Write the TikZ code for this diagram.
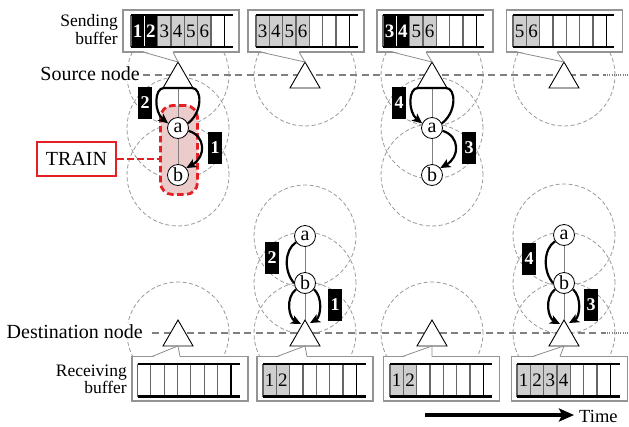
\documentclass[tikz,border=0pt]{standalone}
\usepackage{fontspec}
\setmainfont{Liberation Serif}
\usetikzlibrary{shapes.geometric,arrows.meta,calc}

\definecolor{trainred}{RGB}{228,32,36}
\definecolor{trainpink}{RGB}{236,203,203}
\definecolor{cellgray}{RGB}{206,206,206}

\tikzset{
  rangecircle/.style={draw=black!40, dash pattern=on 4pt off 2.5pt, line width=0.8pt},
  timeline/.style={draw=black!50, dash pattern=on 7pt off 4.5pt, line width=1.3pt},
  tailline/.style={draw=black!50, dash pattern=on 1pt off 1.2pt, line width=1.3pt},
  station/.style={regular polygon, regular polygon sides=3, minimum size=34.6pt,
    draw, fill=white, inner sep=0pt, outer sep=0pt, line width=0.9pt},
  relay/.style={circle, draw, fill=white, minimum size=21pt, inner sep=0pt,
    line width=0.8pt, font=\fontsize{20}{20}\selectfont},
  link/.style={draw=black!50, line width=1pt},
  hop/.style={line width=2.2pt, -{Stealth[length=10pt,width=9pt,inset=2.5pt]}},
  hopline/.style={line width=2.2pt},
  tag/.style={fill=black, text=white, font=\fontsize{18}{18}\selectfont\bfseries,
    minimum width=14pt, minimum height=32pt, inner sep=0pt},
  bufbox/.style={draw=black!42, fill=white, line width=1.2pt, minimum width=116pt,
    inner sep=0pt, outer sep=0pt},
  pointer/.style={draw=black!45, line width=0.8pt},
  cellsep/.style={draw=black!60, line width=1.1pt},
  cellend/.style={draw=black, line width=1.6pt},
  rail/.style={draw=black, line width=2.2pt},
  celltext/.style={font=\fontsize{19}{19}\selectfont, inner sep=0pt},
  rowlabel/.style={font=\fontsize{20}{20}\selectfont, fill=white, inner sep=1pt},
  caption/.style={font=\fontsize{17.5}{15.5}\selectfont, align=right, inner sep=0pt},
  zone/.style={draw=trainred, fill=trainpink, dash pattern=on 6.5pt off 3.5pt,
    line width=2.8pt, rounded corners=12pt, minimum width=37pt, minimum height=89pt},
  trainbox/.style={draw=trainred, line width=2pt, fill=white, minimum width=79pt,
    minimum height=34pt, inner sep=0pt, font=\fontsize{20}{20}\selectfont},
  trainlink/.style={draw=trainred, dash pattern=on 6.5pt off 3.5pt, line width=2.8pt},
  timearrow/.style={line width=4pt, -{Stealth[length=15pt,width=13pt,inset=3pt]}},
}

% buffer ladder: #1 left x, #2 top rail y, #3 bottom rail y, #4 rail end x
\newcommand\rails[4]{%
  \foreach \j in {0,...,6}{\draw[cellsep] ({#1+\j*13.33},#2) -- ({#1+\j*13.33},#3);}
  \draw[cellend] ({#1+93.33},#2) -- ({#1+93.33},#3);
  \draw[rail] (#1,#2) -- (#4,#2) (#1,#3) -- (#4,#3);
}
% one filled cell: #1 name, #2 ladder left, #3 index, #4 top, #5 bottom, #6 fill, #7 text
\newcommand\fillcell[7]{%
  \fill[#6] ({#2+#3*13.33},#4) rectangle ({#2+(#3+1)*13.33},#5);
  \node[celltext] (#1) at ({#2+(#3+0.5)*13.33},{(#4+#5)/2}) {#7};
}
% hops from the source down to a and from a on to b
\newcommand\tophops[3]{%
  \draw[hop] (#2.25) .. controls ($(#1.south)+(25,24)$) and ($(#1.south)+(24,0)$)
    .. ($(#1.south)+(14,0)$) -- ($(#1.south)+(-14,0)$)
    .. controls ($(#1.south)+(-24,0)$) and ($(#1.south)+(-24,24)$) .. (#2.155);
  \draw[hop] (#2.-15) .. controls ($(#2)+(28,8)$) and ($(#3)+(28,-18)$) .. (#3.40);
}
% hops from a via b and from b into the destination
\newcommand\bottomhops[3]{%
  \draw[hopline] (#1.215) .. controls ($(#1)+(-21,14)$) and ($(#2)+(-21,-11)$) .. (#2.180);
  \draw[hop] (#2.215) .. controls ($(#2)+(-20,15)$) and ($(#3.north)+(-16,-2)$)
    .. ($(#3.north)+(-4,4)$);
  \draw[hop] (#2.-35) .. controls ($(#2)+(18,14)$) and ($(#3.north)+(16,-3)$)
    .. ($(#3.north)+(5,3)$);
}

\begin{document}
\begin{tikzpicture}[x=1pt,y=-1pt]
\useasboundingbox (0,0) rectangle (629,426);

% radio ranges
\foreach \cx/\cy in {178/75,178/128,178/175,305/75,432/75,432/128,432/175,564/75,
                     178/333,305/236,305/283,305/333,432/333,564/235,564/283,564/333}
  \draw[rangecircle] (\cx,\cy) circle[radius=51pt];

% row labels
\node[rowlabel, anchor=base east] (srclabel) at (141,80) {Source node};
\node[rowlabel, anchor=base east] (dstlabel) at (144,338) {Destination node};
\coordinate (srcend) at (605,75);
\coordinate (srctail) at (629,75);
\coordinate (dstend) at (605,333);
\coordinate (dsttail) at (629,333);
\draw[timeline] ($(srclabel.east |- srcend)+(2,0)$) -- (srcend);
\draw[tailline] (srcend) -- (srctail);
\draw[timeline] ($(dstlabel.east |- dstend)+(8,0)$) -- (dstend);
\draw[tailline] (dstend) -- (dsttail);

% captions
\node[caption, anchor=east] (sendcap) at (118,29.5) {Sending\\buffer};
\node[caption, anchor=east] (recvcap) at (127,379) {Receiving\\buffer};

% train of relays
\node[zone] (zone) at (179,150) {};
\node[trainbox] (train) at (76.5,159) {TRAIN};
\draw[trainlink] (train.east) -- (train.east -| zone.west);

% stations
\node[station] (src1) at (178,79.3) {};
\node[station] (src2) at (305,79.3) {};
\node[station] (src3) at (432,79.3) {};
\node[station] (src4) at (564,79.3) {};
\node[station] (dst1) at (178,337.3) {};
\node[station] (dst2) at (305,337.3) {};
\node[station] (dst3) at (432,337.3) {};
\node[station] (dst4) at (564,337.3) {};

\node[relay] (a1) at (178,128) {a};
\node[relay] (b1) at (178,175) {b};
\node[relay] (a3) at (432,128) {a};
\node[relay] (b3) at (432,175) {b};
\node[relay] (a2) at (305,236) {a};
\node[relay] (b2) at (305,283) {b};
\node[relay] (a4) at (564,235) {a};
\node[relay] (b4) at (564,283) {b};

\draw[link] (src1.south) -- (a1) -- (b1);
\draw[link] (src3.south) -- (a3) -- (b3);
\draw[link] (a2) -- (b2) -- (dst2.north);
\draw[link] (a4) -- (b4) -- (dst4.north);

% packet hops
\tophops{src1}{a1}{b1}
\tophops{src3}{a3}{b3}
\bottomhops{a2}{b2}{dst2}
\bottomhops{a4}{b4}{dst4}

\node[tag] (t1a) at (145,103) {2};
\node[tag] (t1b) at (215,148) {1};
\node[tag] (t3a) at (399,103) {4};
\node[tag] (t3b) at (469,148) {3};
\node[tag] (t2a) at (272,258) {2};
\node[tag] (t2b) at (335,305) {1};
\node[tag] (t4a) at (529,259) {4};
\node[tag] (t4b) at (591,305) {3};

% sending buffers
\foreach \k/\cx in {1/181,2/306,3/435,4/564.5}
  \node[bufbox, minimum height=42pt] (sb\k) at (\cx,31) {};
\foreach \k/\dl/\dr in {1/20/-5,2/12/-6,3/15/-6,4/10/-7}{
  \fill[white] ($(sb\k.south west)+(\dl,-0.8)$) -- ($(src\k.north |- sb\k.south)+(\dr,-0.8)$)
    -- (src\k.north) -- cycle;
  \draw[pointer] ($(sb\k.south west)+(\dl,0)$) -- (src\k.north)
    -- ($(src\k.north |- sb\k.south)+(\dr,0)$);
}
\fillcell{s11}{131}{0}{15}{47}{black}{\textcolor{white}{\textbf{1}}}
\fillcell{s12}{131}{1}{15}{47}{black}{\textcolor{white}{\textbf{2}}}
\fillcell{s13}{131}{2}{15}{47}{cellgray}{3}
\fillcell{s14}{131}{3}{15}{47}{cellgray}{4}
\fillcell{s15}{131}{4}{15}{47}{cellgray}{5}
\fillcell{s16}{131}{5}{15}{47}{cellgray}{6}
\rails{131}{15}{47}{233}
\draw[white, line width=1pt] (144.33,16.2) -- (144.33,45.8);

\fillcell{s23}{256}{0}{15}{47}{cellgray}{3}
\fillcell{s24}{256}{1}{15}{47}{cellgray}{4}
\fillcell{s25}{256}{2}{15}{47}{cellgray}{5}
\fillcell{s26}{256}{3}{15}{47}{cellgray}{6}
\rails{256}{15}{47}{358}

\fillcell{s33}{383}{0}{15}{47}{black}{\textcolor{white}{\textbf{3}}}
\fillcell{s34}{383}{1}{15}{47}{black}{\textcolor{white}{\textbf{4}}}
\fillcell{s35}{383}{2}{15}{47}{cellgray}{5}
\fillcell{s36}{383}{3}{15}{47}{cellgray}{6}
\rails{383}{15}{47}{484}
\draw[white, line width=1pt] (396.33,16.2) -- (396.33,45.8);

\fillcell{s45}{513}{0}{15}{47}{cellgray}{5}
\fillcell{s46}{513}{1}{15}{47}{cellgray}{6}
\rails{513}{15}{47}{614}

% receiving buffers
\foreach \k/\cx in {1/190,2/315,3/441.5,4/569.5}
  \node[bufbox, minimum height=44.5pt] (rb\k) at (\cx,378.75) {};
\foreach \k/\dl/\dr in {1/20/2,2/20/2,3/19/0,4/21/-4}{
  \fill[white] ($(rb\k.north west)+(\dl,0.8)$) -- ($(dst\k.south |- rb\k.north)+(\dr,0.8)$)
    -- (dst\k.south) -- cycle;
  \draw[pointer] ($(rb\k.north west)+(\dl,0)$) -- (dst\k.south)
    -- ($(dst\k.south |- rb\k.north)+(\dr,0)$);
}
\rails{137.5}{364}{396.5}{240}

\fillcell{r21}{263}{0}{364}{396.5}{cellgray}{1}
\fillcell{r22}{263}{1}{364}{396.5}{cellgray}{2}
\rails{263}{364}{396.5}{366}

\fillcell{r31}{390}{0}{364}{396.5}{cellgray}{1}
\fillcell{r32}{390}{1}{364}{396.5}{cellgray}{2}
\rails{390}{364}{396.5}{492}

\fillcell{r41}{517}{0}{364}{396.5}{cellgray}{1}
\fillcell{r42}{517}{1}{364}{396.5}{cellgray}{2}
\fillcell{r43}{517}{2}{364}{396.5}{cellgray}{3}
\fillcell{r44}{517}{3}{364}{396.5}{cellgray}{4}
\rails{517}{364}{396.5}{620}

% time axis
\node[font=\fontsize{18.5}{18.5}\selectfont, inner sep=0pt, anchor=base west]
  (timelabel) at (579,422) {Time};
\coordinate (tstart) at (425,415);
\draw[timearrow] (tstart) -- ([xshift=-5pt]timelabel.west |- tstart);
\end{tikzpicture}
\end{document}
